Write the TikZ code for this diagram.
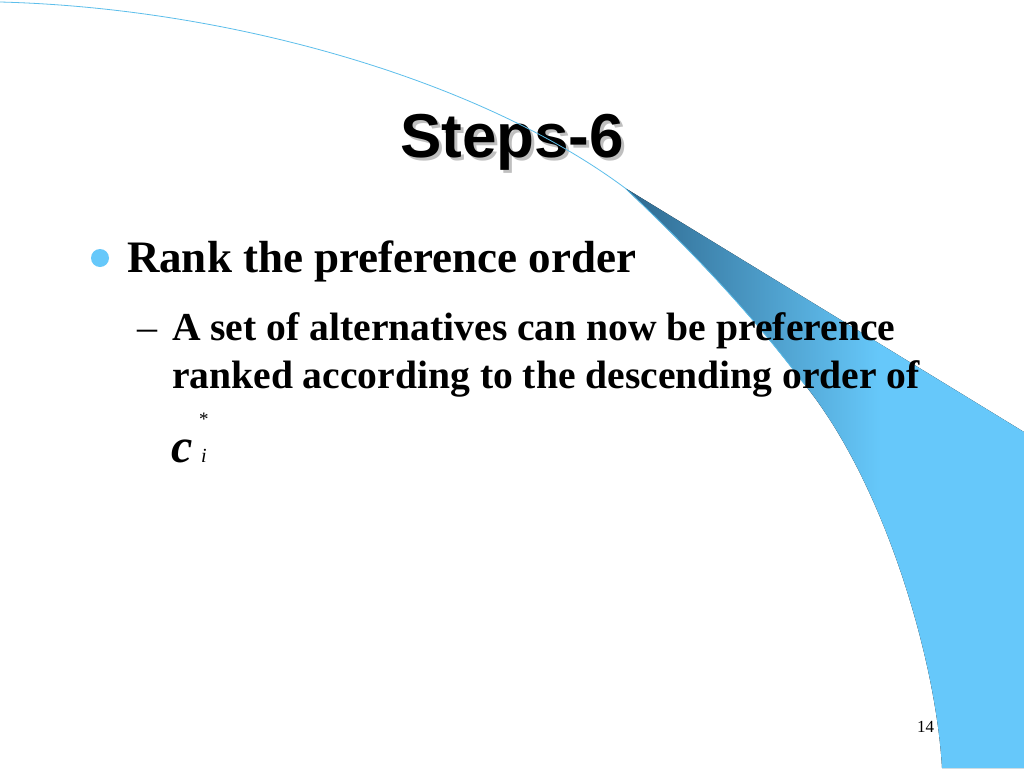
\documentclass[tikz,border=0pt]{standalone}
\usepackage{fontspec}
\setmainfont{Liberation Serif}
\newfontfamily\arialf{Liberation Sans}
\definecolor{lightblue}{RGB}{102,200,250}
\definecolor{lineblue}{RGB}{92,190,235}
\definecolor{darkblue}{RGB}{46,104,142}
\pgfdeclarehorizontalshading{wingshade}{100bp}{color(0bp)=(darkblue); color(25bp)=(darkblue); color(57bp)=(lightblue); color(100bp)=(lightblue)}
\tikzset{
  txt/.style={inner sep=0pt, outer sep=0pt, anchor=base west},
  bodytxt/.style={txt, font=\fontsize{39.6}{48}\selectfont\bfseries},
  titletxt/.style={inner sep=0pt, anchor=base, font=\arialf\fontsize{62}{70}\selectfont\bfseries}
}
\begin{document}
\begin{tikzpicture}[x=1pt,y=-1pt]
\useasboundingbox (0,0) rectangle (1024,768);
\fill[white] (0,0) rectangle (1024,768);
% blue wing
\fill[shading=wingshade] (625,188) -- (1024,432) -- (1024,768) -- (942,768)
  .. controls (936,660) and (885,485) .. (805,385)
  .. controls (745,305) and (680,240) .. (625,188) -- cycle;
% title
\node[titletxt, text=gray!50] at (515,160) {Steps-6};
\node[titletxt] (title) at (512,157) {Steps-6};
% thin arc
\draw[lineblue, line width=0.8pt] (0,2) .. controls (230,8) and (480,80) .. (625,188)
  .. controls (680,240) and (745,305) .. (805,385);
% bullet
\fill[lightblue] (100,258) circle (9);
\node[txt, font=\fontsize{45}{54}\selectfont\bfseries] (l1) at (127,272) {Rank the preference order};
\node[txt, font=\fontsize{40}{48}\selectfont] (dash) at (137,340) {–};
\node[bodytxt] (l2) at (172,340) {A set of alternatives can now be preference};
\node[bodytxt] (l3) at (172,388) {ranked according to the descending order of};
\node[txt, font=\fontsize{48}{50}\selectfont\bfseries\itshape] (c) at (171,462) {c};
\node[txt, font=\fontsize{19}{20}\selectfont] (star) at (199,425) {*};
\node[txt, font=\fontsize{20}{22}\selectfont\itshape] (i) at (201,462) {i};
\node[txt, font=\fontsize{17}{20}\selectfont] (num) at (917,732) {14};
\end{tikzpicture}
\end{document}
